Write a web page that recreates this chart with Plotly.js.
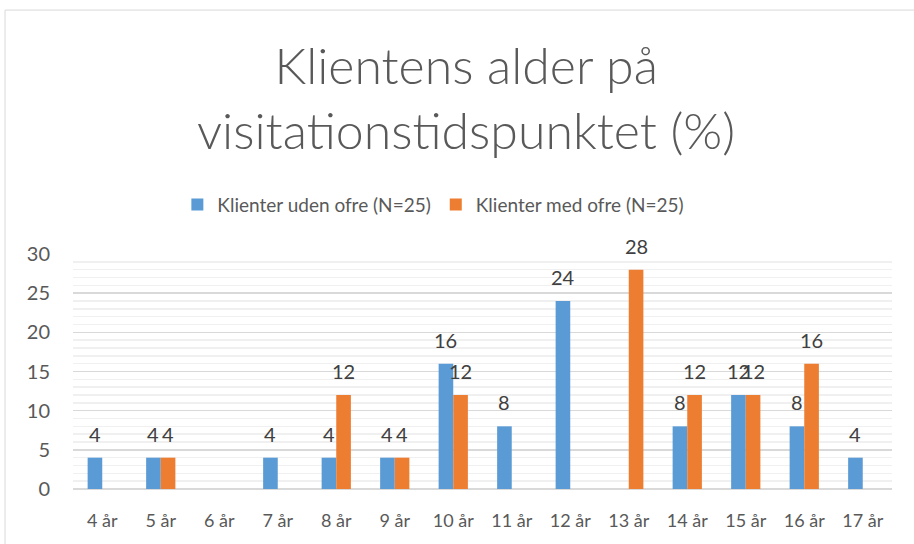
<!DOCTYPE html>
<html>
<head>
<meta charset="utf-8">
<script src="https://cdn.plot.ly/plotly-3.0.1.min.js"></script>
<style>html,body{margin:0;padding:0;background:#fff;}#chart{width:914px;height:544px;}</style>
</head>
<body>
<div id="chart"></div>
<script>
const categories = ['4 år','5 år','6 år','7 år','8 år','9 år','10 år','11 år','12 år','13 år','14 år','15 år','16 år','17 år'];
const udenOfre = [4,4,0,4,4,4,16,8,24,0,8,12,8,4];
const medOfre  = [0,4,0,0,12,4,12,0,0,28,12,12,16,0];
const seriesNames = ['Klienter uden ofre (N=25)','Klienter med ofre (N=25)'];
const titleText = 'Klientens alder på<br>visitationstidspunktet (%)';

const F = 'Lato, "Open Sans", sans-serif';

const traces = [
  {type:'bar', name:seriesNames[0], x:categories, y:udenOfre,
   marker:{color:'#5b9bd5', line:{width:0}}},
  {type:'bar', name:seriesNames[1], x:categories, y:medOfre,
   marker:{color:'#ed7d31', line:{width:0}}}
];

// data labels above each bar, placed through the category axis (group offset = ±1/8 category)
const annotations = [];
[udenOfre, medOfre].forEach((vals, s) => {
  vals.forEach((v, i) => {
    if (v > 0) annotations.push({
      x: i + (s === 0 ? -0.125 : 0.125), y: v, xref:'x', yref:'y',
      text: String(v), showarrow:false, xanchor:'center', yanchor:'bottom', yshift:10,
      font:{family:F, size:20, color:'#404040'}
    });
  });
});

const layout = {
  width:914, height:544,
  margin:{l:73, r:22, t:254, b:55},
  paper_bgcolor:'#fff', plot_bgcolor:'#fff',
  font:{family:F, color:'#595959', size:18},
  title:{text:titleText, font:{family:F, size:50, color:'#595959', weight:300},
         x:0.48, xref:'paper', xanchor:'center', y:0.845, yref:'container', yanchor:'middle'},
  barmode:'group', bargap:0.5, bargroupgap:0,
  showlegend:true,
  legend:{orientation:'h', x:0.44, xanchor:'center', y:1.21, yanchor:'middle',
          font:{family:F, size:19, color:'#595959'}, itemwidth:30, traceorder:'normal'},
  xaxis:{type:'category', showgrid:false, zeroline:false, showline:false, ticks:'',
         range:[-0.5, 13.5],
         tickfont:{family:F, size:18, color:'#595959'}, ticklabelstandoff:19},
  yaxis:{range:[0,30], dtick:5, showgrid:true, gridcolor:'#d9d9d9', gridwidth:1.5,
         zeroline:true, zerolinecolor:'#d9d9d9', zerolinewidth:1.5, showline:false, ticks:'',
         tickfont:{family:F, size:20, color:'#595959'}, ticklabelstandoff:22,
         minor:{dtick:1, showgrid:true, gridcolor:'#f0f0f0', gridwidth:1.5}},
  annotations: annotations,
  shapes:[{type:'rect', xref:'paper', yref:'paper', x0:-0.083, x1:1.03, y0:-0.25, y1:2.038,
           line:{color:'#d9d9d9', width:1}, fillcolor:'rgba(0,0,0,0)', layer:'below'}]
};

Plotly.newPlot('chart', traces, layout, {displayModeBar:false, staticPlot:true});
</script>
</body>
</html>
